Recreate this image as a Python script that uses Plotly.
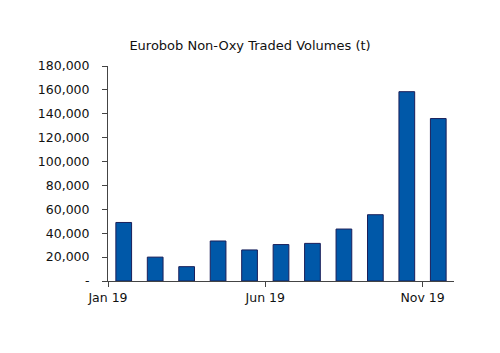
import plotly.graph_objects as go

months = ["Jan 19", "Feb 19", "Mar 19", "Apr 19", "May 19", "Jun 19",
          "Jul 19", "Aug 19", "Sep 19", "Oct 19", "Nov 19"]
volumes = [49000, 20000, 12000, 33500, 26000, 30500, 31500, 43500, 55500, 158500, 136000]
x_tick_labels = ["Jan 19", "Jun 19", "Nov 19"]
y_ticks = [0, 20000, 40000, 60000, 80000, 100000, 120000, 140000, 160000, 180000]
y_tick_text = ["-" if v == 0 else f"{v:,}" for v in y_ticks]

idx = list(range(len(months)))
x_tick_pos = [months.index(m) - 0.5 for m in x_tick_labels]

font = "DejaVu Sans, Verdana, sans-serif"
axis_col = "#444444"

fig = go.Figure(go.Bar(
    x=idx, y=volumes, width=0.5,
    marker=dict(color="#0058a8", line=dict(color="#1a1f5a", width=1)),
    hovertext=months,
))

fig.update_layout(
    width=500, height=353,
    margin=dict(l=108, r=46, t=66, b=72),
    paper_bgcolor="white", plot_bgcolor="white",
    title=dict(text="Eurobob Non-Oxy Traded Volumes (t)", x=0.5, xanchor="center",
               y=1 - 45 / 353, yanchor="middle",
               font=dict(family=font, size=13, color="#111111")),
    font=dict(family=font, size=12.5, color="#111111"),
    showlegend=False,
    bargap=0.5,
)
fig.update_xaxes(
    range=[-0.5, len(months) - 0.5],
    tickvals=x_tick_pos, ticktext=x_tick_labels,
    showline=True, linecolor=axis_col, linewidth=1,
    ticks="outside", ticklen=5, tickcolor=axis_col,
    showgrid=False, zeroline=False,
)
fig.update_yaxes(
    range=[0, 180000],
    tickvals=y_ticks, ticktext=y_tick_text,
    showline=True, linecolor=axis_col, linewidth=1,
    ticks="outside", ticklen=5, tickcolor=axis_col,
    ticklabelstandoff=10,
    showgrid=False, zeroline=False,
)

fig.write_html("out.html")
